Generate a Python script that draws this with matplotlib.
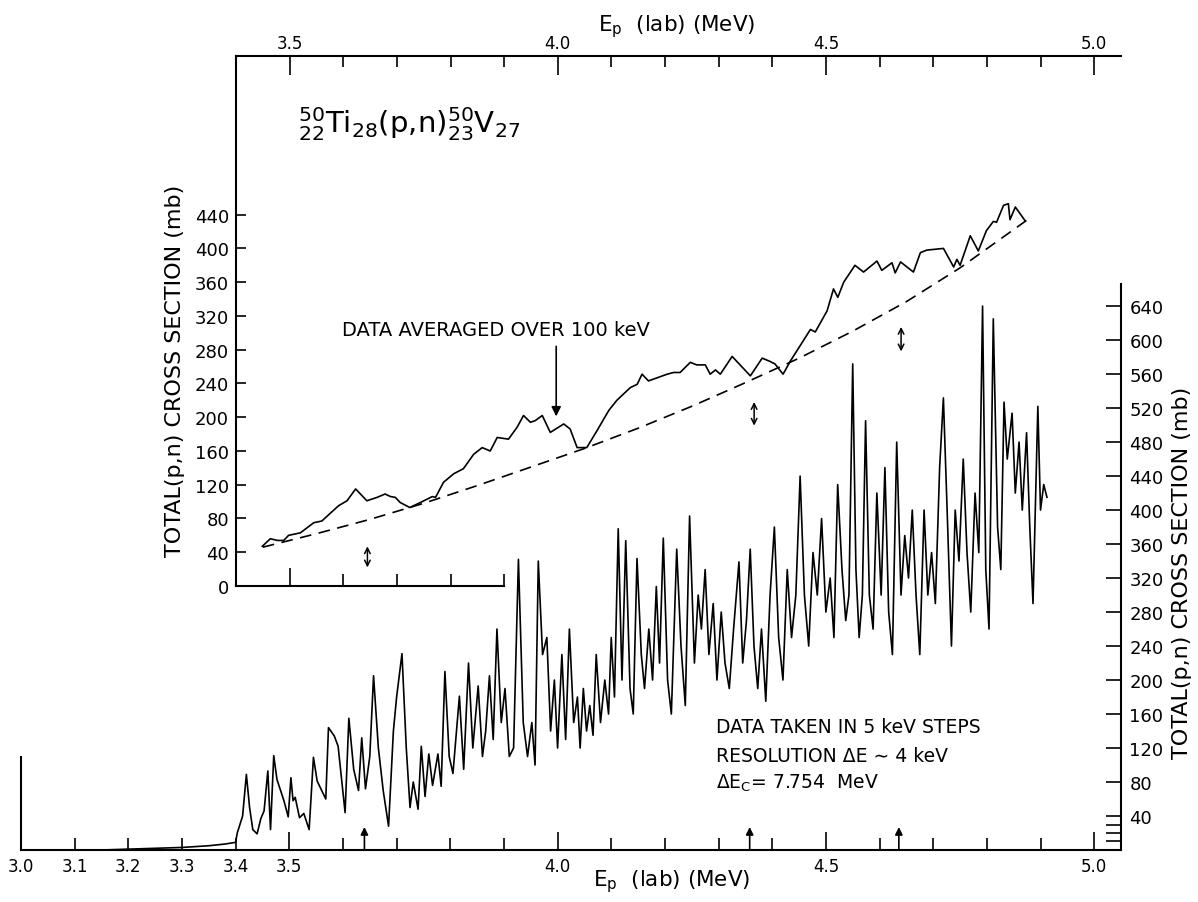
import matplotlib.pyplot as plt

plt.rcParams['font.family'] = ['DejaVu Sans']
plt.rcParams['mathtext.fontset'] = 'dejavusans'

# measured spectrum, E_p (MeV) and total (p,n) cross section (mb)
scan_E = [3.000, 3.150, 3.200, 3.250, 3.300, 3.350, 3.380, 3.400, 3.403, 3.408,
          3.413, 3.420, 3.426, 3.432, 3.440, 3.447, 3.453, 3.460, 3.465, 3.471,
          3.477, 3.490, 3.498, 3.503, 3.507, 3.511, 3.519, 3.527, 3.537, 3.545,
          3.552, 3.568, 3.573, 3.584, 3.591, 3.604, 3.611, 3.620, 3.629, 3.635,
          3.642, 3.650, 3.657, 3.666, 3.675, 3.685, 3.694, 3.700, 3.710, 3.718,
          3.725, 3.731, 3.740, 3.746, 3.753, 3.760, 3.767, 3.777, 3.783, 3.790,
          3.798, 3.805, 3.817, 3.825, 3.834, 3.842, 3.852, 3.860, 3.866, 3.873,
          3.880, 3.887, 3.895, 3.902, 3.910, 3.918, 3.927, 3.936, 3.944, 3.952,
          3.958, 3.964, 3.972, 3.980, 3.987, 3.994, 4.000, 4.008, 4.015, 4.022,
          4.030, 4.037, 4.042, 4.048, 4.054, 4.060, 4.066, 4.072, 4.080, 4.088,
          4.095, 4.100, 4.106, 4.113, 4.120, 4.127, 4.135, 4.141, 4.148, 4.156,
          4.162, 4.170, 4.177, 4.184, 4.190, 4.197, 4.205, 4.212, 4.222, 4.230,
          4.238, 4.246, 4.255, 4.262, 4.268, 4.275, 4.282, 4.290, 4.297, 4.305,
          4.312, 4.320, 4.328, 4.338, 4.345, 4.352, 4.359, 4.366, 4.373, 4.380,
          4.388, 4.396, 4.404, 4.412, 4.420, 4.428, 4.436, 4.444, 4.452, 4.460,
          4.468, 4.476, 4.484, 4.492, 4.500, 4.508, 4.515, 4.522, 4.530, 4.537,
          4.543, 4.550, 4.556, 4.562, 4.568, 4.574, 4.581, 4.588, 4.595, 4.603,
          4.610, 4.617, 4.624, 4.632, 4.640, 4.647, 4.654, 4.661, 4.668, 4.675,
          4.683, 4.690, 4.697, 4.704, 4.712, 4.719, 4.727, 4.734, 4.741, 4.748,
          4.756, 4.763, 4.770, 4.778, 4.785, 4.792, 4.798, 4.804, 4.812, 4.820,
          4.826, 4.832, 4.838, 4.847, 4.853, 4.860, 4.866, 4.874, 4.880, 4.886,
          4.895, 4.900, 4.906, 4.912]
scan_mb = [0, 0, 1, 2, 3, 5, 7, 9, 20, 30,
           40, 89, 50, 24, 19, 37, 46, 93, 24, 111,
           83, 58, 39, 85, 58, 62, 38, 43, 24, 109,
           81, 60, 144, 134, 122, 44, 155, 95, 70, 132,
           72, 110, 205, 120, 70, 28, 140, 180, 231, 120,
           50, 80, 48, 122, 63, 113, 76, 113, 75, 210,
           110, 90, 181, 95, 220, 120, 193, 110, 140, 205,
           130, 260, 150, 190, 110, 120, 342, 150, 110, 150,
           100, 340, 230, 250, 140, 200, 120, 230, 130, 260,
           150, 180, 120, 190, 140, 170, 135, 230, 150, 200,
           160, 250, 180, 378, 200, 364, 190, 160, 343, 230,
           190, 260, 200, 310, 220, 367, 200, 160, 354, 240,
           170, 393, 220, 300, 260, 330, 230, 290, 200, 280,
           220, 190, 260, 339, 220, 270, 354, 240, 190, 260,
           175, 300, 380, 250, 200, 330, 250, 300, 440, 300,
           240, 350, 300, 390, 280, 320, 250, 430, 330, 270,
           300, 572, 330, 250, 300, 505, 300, 260, 420, 300,
           450, 280, 230, 480, 300, 370, 320, 400, 300, 230,
           400, 300, 350, 290, 450, 532, 380, 240, 400, 340,
           460, 350, 280, 420, 350, 640, 330, 260, 625, 380,
           330, 527, 460, 514, 420, 480, 400, 491, 380, 290,
           522, 400, 430, 415]

# data averaged over 100 keV (inset)
avg_E = [3.449, 3.464, 3.477, 3.489, 3.498, 3.520, 3.545, 3.560, 3.591, 3.607,
         3.623, 3.644, 3.663, 3.678, 3.688, 3.697, 3.706, 3.724, 3.744, 3.766,
         3.772, 3.787, 3.806, 3.824, 3.843, 3.859, 3.874, 3.887, 3.908, 3.924,
         3.936, 3.949, 3.958, 3.971, 3.986, 4.011, 4.023, 4.036, 4.054, 4.073,
         4.095, 4.110, 4.135, 4.148, 4.157, 4.169, 4.204, 4.216, 4.228, 4.247,
         4.259, 4.275, 4.284, 4.294, 4.303, 4.325, 4.359, 4.381, 4.396, 4.405,
         4.420, 4.434, 4.452, 4.471, 4.480, 4.502, 4.514, 4.522, 4.533, 4.554,
         4.570, 4.595, 4.604, 4.623, 4.629, 4.639, 4.663, 4.676, 4.688, 4.719,
         4.738, 4.744, 4.750, 4.769, 4.784, 4.799, 4.812, 4.818, 4.831, 4.840,
         4.843, 4.853, 4.862, 4.871]
avg_mb = [47, 56, 54, 54, 60, 63, 75, 77, 95, 101,
          115, 101, 105, 109, 106, 105, 99, 93, 99, 106,
          105, 123, 133, 139, 156, 164, 160, 176, 174, 188,
          202, 194, 196, 202, 182, 192, 186, 164, 164, 184,
          208, 220, 235, 239, 251, 243, 251, 253, 253, 265,
          262, 262, 251, 256, 251, 272, 249, 270, 266, 263,
          251, 267, 285, 304, 301, 326, 352, 342, 360, 380,
          372, 385, 374, 383, 371, 384, 372, 395, 398, 400,
          378, 387, 380, 415, 397, 421, 432, 431, 451, 453,
          434, 449, 441, 433]

# smooth dashed curve
fit_E = [3.45, 3.55, 3.65, 3.75, 3.85, 3.95, 4.05, 4.15, 4.25, 4.35,
         4.45, 4.55, 4.65, 4.75, 4.88]
fit_mb = [46, 62, 79, 98, 119, 141, 163, 187, 213, 241,
          270, 302, 337, 377, 436]

# markers
arrow_E = [3.640, 4.358, 4.636]
err_E = [3.645, 4.366, 4.640]
err_lo = [22, 190, 278]
err_hi = [47, 218, 307]

bottom_ticks = [3.0, 3.1, 3.2, 3.3, 3.4, 3.5, 4.0, 4.5, 5.0]
bottom_labels = ['3.0', '3.1', '3.2', '3.3', '3.4', '3.5', '4.0', '4.5', '5.0']
bottom_minor = [3.6, 3.7, 3.8, 3.9, 4.1, 4.2, 4.3, 4.4, 4.6, 4.7, 4.8, 4.9]
right_ticks = list(range(40, 641, 40))
right_minor = [10, 20, 30]
top_ticks = [3.5, 4.0, 4.5, 5.0]
top_labels = ['3.5', '4.0', '4.5', '5.0']
top_minor = [3.6, 3.7, 3.8, 3.9, 4.1, 4.2, 4.3, 4.4, 4.6, 4.7, 4.8, 4.9]
inset_yticks = list(range(0, 441, 40))
inset_bottom_minor = [3.6, 3.7, 3.8, 3.9]

ylabel = 'TOTAL(p,n) CROSS SECTION (mb)'

fig = plt.figure(figsize=(11.98, 9.03), dpi=100)

# --- main spectrum ---
ax = fig.add_axes([0.01753, 0.05759, 0.9182, 0.6268])
ax.plot(scan_E, scan_mb, color='black', lw=1.2, solid_joinstyle='round')
ax.set_xlim(3.0, 5.05)
ax.set_ylim(0, 666)
ax.spines['top'].set_visible(False)
ax.spines['left'].set_bounds(0, 110)
for s in ['left', 'right', 'bottom']:
    ax.spines[s].set_linewidth(1.5)

ax.yaxis.tick_right()
ax.set_yticks(right_ticks)
ax.set_yticks(right_minor, minor=True)
ax.tick_params(axis='y', which='both', direction='in', length=10.5, width=1.2,
               labelsize=13, pad=6)

ax.set_xticks(bottom_ticks, labels=bottom_labels)
ax.set_xticks(bottom_minor, minor=True)
ax.tick_params(axis='x', which='major', direction='in', length=13, width=1.2,
               labelsize=12, pad=5)
ax.tick_params(axis='x', which='minor', direction='in', length=8.6, width=1.2)
xt = ax.xaxis.get_major_ticks()
xt[0].tick1line.set_visible(False)
for t in xt[1:5]:
    t.tick1line.set_markersize(8.6)

for e in arrow_E:
    ax.annotate('', xy=(e, 27), xytext=(e, 0),
                arrowprops=dict(arrowstyle='-|>', color='black', lw=1.2,
                                mutation_scale=11, shrinkA=0, shrinkB=0))

ax.text(4.296, 145, 'DATA TAKEN IN 5 keV STEPS', fontsize=13.5, va='center')
ax.text(4.296, 111, 'RESOLUTION ΔE ∼ 4 keV', fontsize=13.5, va='center')
ax.text(4.296, 80, r'ΔE$_\mathregular{C}$= 7.754  MeV', fontsize=13.5, va='center')

# --- inset: averaged data ---
ax_in = fig.add_axes([0.19699, 0.34994, 0.73874, 0.58694], facecolor='none')
ax_in.plot(avg_E, avg_mb, color='black', lw=1.2)
ax_in.plot(fit_E, fit_mb, color='black', lw=1.2, linestyle=(0, (7, 4.5)))
ax_in.set_xlim(3.4, 5.05)
ax_in.set_ylim(0, 628)
ax_in.spines['right'].set_visible(False)
ax_in.spines['top'].set_visible(False)
ax_in.spines['bottom'].set_bounds(3.4, 3.9)
for s in ['left', 'bottom']:
    ax_in.spines[s].set_linewidth(1.5)

ax_in.set_yticks(inset_yticks)
ax_in.tick_params(axis='y', direction='in', length=7, width=1.2, labelsize=13, pad=5)
ax_in.set_xticks([3.5], labels=[''])
ax_in.set_xticks(inset_bottom_minor, minor=True)
ax_in.tick_params(axis='x', which='major', direction='in', length=13, width=1.2)
ax_in.tick_params(axis='x', which='minor', direction='in', length=9, width=1.2)

top = ax_in.secondary_xaxis('top')
top.set_xticks(top_ticks, labels=top_labels)
top.set_xticks(top_minor, minor=True)
top.tick_params(axis='x', which='major', direction='in', length=13.5, width=1.2,
                labelsize=12, pad=3)
top.tick_params(axis='x', which='minor', direction='in', length=8, width=1.2)
top.spines['top'].set_linewidth(1.5)

for e, lo, hi in zip(err_E, err_lo, err_hi):
    ax_in.annotate('', xy=(e, hi), xytext=(e, lo),
                   arrowprops=dict(arrowstyle='<->', color='black', lw=1.1,
                                   mutation_scale=10, shrinkA=0, shrinkB=0))

ax_in.text(3.516, 538, r'${}^{50}_{22}$Ti$_{28}$(p,n)$^{50}_{23}$V$_{27}$',
           fontsize=21, va='baseline')
ax_in.text(3.598, 304, 'DATA AVERAGED OVER 100 keV', fontsize=14, va='center')
ax_in.annotate('', xy=(3.997, 201), xytext=(3.997, 284),
               arrowprops=dict(arrowstyle='-|>', color='black', lw=1.2,
                               mutation_scale=14, shrinkA=0, shrinkB=0))

# axis titles
fig.text(0.561, 0.0233, r'E$_\mathregular{p}$  (lab) (MeV)', fontsize=15.5,
         ha='center', va='center')
fig.text(0.565, 0.970, r'E$_\mathregular{p}$  (lab) (MeV)', fontsize=15.5,
         ha='center', va='center')
fig.text(0.146, 1 - 557 / 903, ylabel, fontsize=16, rotation=90,
         ha='center', va='bottom')
fig.text(0.987, 1 - 759 / 903, ylabel, fontsize=16, rotation=90,
         ha='center', va='bottom')

fig.savefig('out.png', dpi=100)
